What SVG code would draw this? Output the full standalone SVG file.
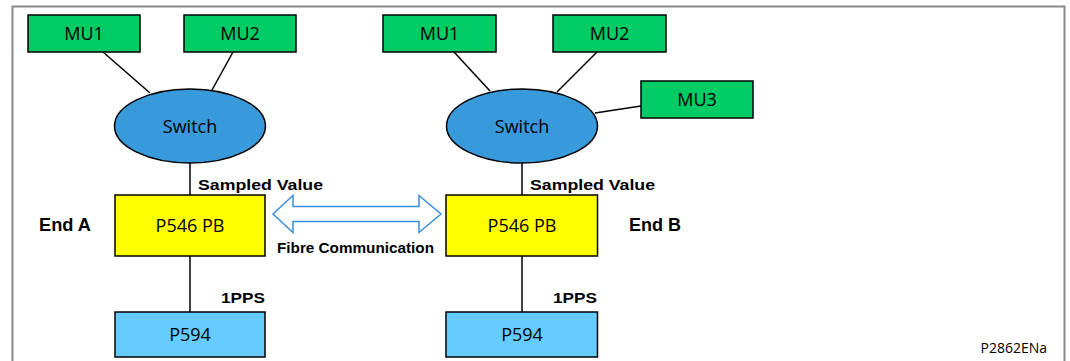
<svg xmlns="http://www.w3.org/2000/svg" width="1070" height="361" viewBox="0 0 1070 361">
<style>
.mu{fill:#00CC66;stroke:#000;stroke-width:1.5}
.sw{fill:#3899DB;stroke:#000;stroke-width:1.5}
.pb{fill:#FFFF00;stroke:#000;stroke-width:1.5}
.gps{fill:#66CCFF;stroke:#000;stroke-width:1.5}
.nt{font-family:"Open Sans","Noto Sans",sans-serif;font-size:18px;fill:#000;text-anchor:middle}
.lb{font-family:"Liberation Sans",Arial,sans-serif;font-weight:bold;fill:#000}
.ln{stroke:#000;stroke-width:1.5;fill:none}
</style>
<rect x="0" y="0" width="1070" height="361" fill="#fff"/>
<path d="M12.5 361 V6.5 H1064.5 V361" fill="none" stroke="#888" stroke-width="2"/>
<g id="connectors">
<line class="ln" x1="103" y1="52" x2="150" y2="93"/>
<line class="ln" x1="233" y1="52" x2="212" y2="90"/>
<line class="ln" x1="190" y1="163" x2="190" y2="195"/>
<line class="ln" x1="190" y1="256" x2="190" y2="312"/>
<line class="ln" x1="454" y1="52" x2="490" y2="91"/>
<line class="ln" x1="597" y1="52" x2="557" y2="92"/>
<line class="ln" x1="641" y1="106" x2="595" y2="113"/>
<line class="ln" x1="522" y1="163" x2="522" y2="195"/>
<line class="ln" x1="522" y1="256" x2="522" y2="312"/>
<path id="fibre" d="M273 214 L293 195.5 V206.5 H419 V195.5 L441 214 L419 232.5 V221.5 H293 V232.5 Z" fill="#fff" stroke="#3A8FD9" stroke-width="1.5" stroke-linejoin="miter"/>
</g>
<g id="a-mu1"><rect class="mu" x="28" y="15" width="112" height="37"/><text class="nt" x="84" y="40">MU1</text></g>
<g id="a-mu2"><rect class="mu" x="184" y="15" width="112" height="37"/><text class="nt" x="240" y="40">MU2</text></g>
<g id="a-switch"><ellipse class="sw" cx="190" cy="126" rx="75.5" ry="37"/><text class="nt" x="190" y="133">Switch</text></g>
<g id="a-p546"><rect class="pb" x="115" y="195" width="150" height="61"/><text class="nt" x="190" y="232">P546 PB</text></g>
<g id="a-p594"><rect class="gps" x="115" y="312" width="150" height="45"/><text class="nt" x="190" y="341">P594</text></g>
<g id="b-mu1"><rect class="mu" x="383" y="15" width="113" height="37"/><text class="nt" x="439.5" y="40">MU1</text></g>
<g id="b-mu2"><rect class="mu" x="553" y="15" width="113" height="37"/><text class="nt" x="609.5" y="40">MU2</text></g>
<g id="b-mu3"><rect class="mu" x="641" y="81" width="112" height="37"/><text class="nt" x="697" y="106">MU3</text></g>
<g id="b-switch"><ellipse class="sw" cx="522" cy="126" rx="75.5" ry="37"/><text class="nt" x="522" y="133">Switch</text></g>
<g id="b-p546"><rect class="pb" x="446" y="195" width="151.5" height="61"/><text class="nt" x="522" y="232">P546 PB</text></g>
<g id="b-p594"><rect class="gps" x="446" y="312" width="151.5" height="45"/><text class="nt" x="522" y="341">P594</text></g>
<g id="labels">
<text class="lb" x="198" y="189.5" font-size="15.5" textLength="125" lengthAdjust="spacingAndGlyphs">Sampled Value</text>
<text class="lb" x="530" y="189.5" font-size="15.5" textLength="125" lengthAdjust="spacingAndGlyphs">Sampled Value</text>
<text class="lb" x="39" y="231" font-size="17.5" textLength="52" lengthAdjust="spacingAndGlyphs">End A</text>
<text class="lb" x="629" y="231" font-size="17.5" textLength="52" lengthAdjust="spacingAndGlyphs">End B</text>
<text class="lb" x="221" y="302.5" font-size="15.5" textLength="44" lengthAdjust="spacingAndGlyphs">1PPS</text>
<text class="lb" x="553" y="302.5" font-size="15.5" textLength="44" lengthAdjust="spacingAndGlyphs">1PPS</text>
<text class="lb" x="277" y="252.5" font-size="14" textLength="157" lengthAdjust="spacingAndGlyphs">Fibre Communication</text>
<text x="1047" y="353" font-family="'Open Sans','Noto Sans',sans-serif" font-size="14" text-anchor="end" fill="#000">P2862ENa</text>
</g>
</svg>
